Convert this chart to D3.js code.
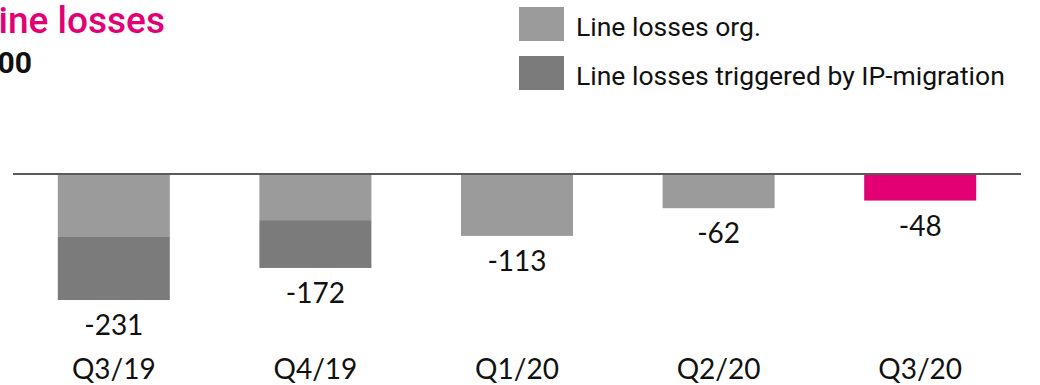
<!DOCTYPE html>
<html>
<head>
<meta charset="utf-8">
<script src="https://cdn.jsdelivr.net/npm/d3@7"></script>
<style>
  html, body { margin: 0; padding: 0; background: #ffffff; }
  svg { display: block; }
</style>
</head>
<body>
<svg id="chart" width="1040" height="385"></svg>
<script>
// Quarterly line losses, in thousands
const quarters = ["Q3/19", "Q4/19", "Q1/20", "Q2/20", "Q3/20"];
const lossesOrg = [-115, -84, -113, -62, -48];
const lossesIpMigration = [-116, -88, 0, 0, 0];
const totals = [-231, -172, -113, -62, -48];
const highlightQuarter = "Q3/20";

const legendLabels = ["Line losses org.", "Line losses triggered by IP-migration"];
const titleText = "Line losses";
const unitText = "'000";

const colors = {
  org: "#9b9b9b",
  ip: "#7b7b7b",
  highlight: "#e20074",
  axis: "#5a5a5a",
  text: "#111111"
};

const labelFont = "Lato, Roboto, 'Noto Sans', sans-serif";
const headFont = "Roboto, 'Noto Sans', sans-serif";

const svg = d3.select("#chart");

const x = d3.scaleBand()
  .domain(quarters)
  .range([13, 1021])
  .paddingInner(0.4444)
  .paddingOuter(0.2222);

const y = d3.scaleLinear()
  .domain([0, -300])
  .range([174.5, 337.5]);

// Stack the two loss components downward from zero
const rows = quarters.map((q, i) => ({ q, org: lossesOrg[i], ip: lossesIpMigration[i], total: totals[i] }));
const stack = d3.stack()
  .keys(["org", "ip"])
  .offset(d3.stackOffsetDiverging);
const layers = stack(rows);

const bars = svg.append("g");
layers.forEach(layer => {
  bars.selectAll(null)
    .data(layer.filter(d => d[1] - d[0] !== 0))
    .enter().append("rect")
    .attr("x", d => x(d.data.q))
    .attr("width", x.bandwidth())
    .attr("y", d => y(d[1]))
    .attr("height", d => y(d[0]) - y(d[1]))
    .attr("fill", d => d.data.q === highlightQuarter ? colors.highlight : (layer.key === "org" ? colors.org : colors.ip));
});

// Zero line
svg.append("line")
  .attr("x1", 13).attr("x2", 1021)
  .attr("y1", y(0) - 0.5).attr("y2", y(0) - 0.5)
  .attr("stroke", colors.axis)
  .attr("stroke-width", 2);

// Total labels below each bar (plain hyphen as minus sign)
svg.append("g").selectAll("text")
  .data(rows)
  .enter().append("text")
  .attr("x", d => x(d.q) + x.bandwidth() / 2)
  .attr("y", d => y(d.total) + 35)
  .attr("text-anchor", "middle")
  .style("font-family", labelFont)
  .style("font-size", "28px")
  .attr("fill", colors.text)
  .text(d => String(d.total));

// Category axis
const xAxis = svg.append("g")
  .attr("transform", "translate(0,379)")
  .call(d3.axisBottom(x).tickSize(0).tickPadding(0));
xAxis.select(".domain").remove();
xAxis.selectAll("text")
  .attr("dy", 0)
  .style("font-family", labelFont)
  .style("font-size", "28px")
  .attr("fill", colors.text);

// Title and unit
svg.append("text")
  .attr("x", 165).attr("y", 33)
  .attr("text-anchor", "end")
  .style("font-family", headFont)
  .style("font-size", "37px")
  .style("font-weight", 500)
  .attr("fill", colors.highlight)
  .text(titleText);

svg.append("text")
  .attr("x", 32).attr("y", 73)
  .attr("text-anchor", "end")
  .style("font-family", headFont)
  .style("font-size", "30px")
  .style("font-weight", 700)
  .attr("fill", colors.text)
  .text(unitText);

// Legend
const legend = svg.append("g").attr("transform", "translate(519,7)");
const legendItems = legend.selectAll("g")
  .data(legendLabels)
  .enter().append("g")
  .attr("transform", (d, i) => `translate(0,${i * 49})`);
legendItems.append("rect")
  .attr("width", 45).attr("height", 34)
  .attr("fill", (d, i) => i === 0 ? colors.org : colors.ip);
legendItems.append("text")
  .attr("x", 57).attr("y", 28.5)
  .style("font-family", headFont)
  .style("font-size", "26.5px")
  .attr("fill", colors.text)
  .text(d => d);
</script>
</body>
</html>
